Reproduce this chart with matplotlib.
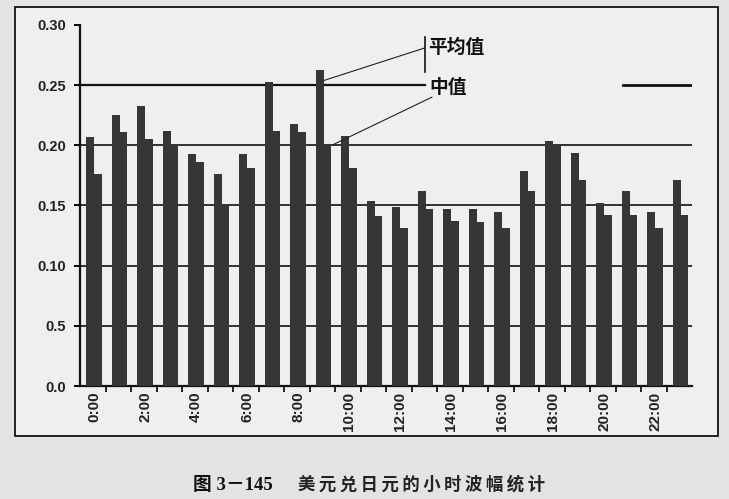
import matplotlib
matplotlib.use("Agg")
import matplotlib.pyplot as plt
from matplotlib.patches import Rectangle
import numpy as np

hours = list(range(24))
hour_labels = [f"{h}:00" for h in range(0, 24, 2)]
mean_vals = [0.207, 0.225, 0.233, 0.212, 0.193, 0.176, 0.193, 0.253, 0.218, 0.263,
             0.208, 0.154, 0.149, 0.162, 0.147, 0.147, 0.145, 0.179, 0.204, 0.194,
             0.152, 0.162, 0.145, 0.171]
median_vals = [0.176, 0.211, 0.205, 0.200, 0.186, 0.151, 0.181, 0.212, 0.211, 0.201,
               0.181, 0.141, 0.131, 0.147, 0.137, 0.136, 0.131, 0.162, 0.201, 0.171,
               0.142, 0.142, 0.131, 0.142]
ytick_vals = [0.0, 0.05, 0.10, 0.15, 0.20, 0.25, 0.30]
ytick_labels = ["0.0", "0.5", "0.10", "0.15", "0.20", "0.25", "0.30"]
mean_label = "平均值"
median_label = "中值"
caption_num = "图 3－145"
caption_title = "美元兑日元的小时波幅统计"

W, H = 729, 499
fig = plt.figure(figsize=(W / 100, H / 100), dpi=100)
fig.patch.set_facecolor("#e3e3e3")

# outer frame
frame = Rectangle((15 / W, 1 - 436 / H), (718 - 15) / W, (436 - 7) / H,
                  transform=fig.transFigure, facecolor="#efefef",
                  edgecolor="#111111", linewidth=1.3, zorder=-5)
fig.add_artist(frame)

ax = fig.add_axes([80 / W, 1 - 386 / H, (692 - 80) / W, (386 - 25) / H])
ax.set_facecolor("none")
ax.set_zorder(2)

x = np.array(hours, dtype=float)
bw = 0.3
off = 0.05
bar_color = "#363636"
ax.bar(x + off - bw / 2, mean_vals, width=bw, color=bar_color, zorder=3, linewidth=0)
ax.bar(x + off + bw / 2, median_vals, width=bw, color=bar_color, zorder=3, linewidth=0)

ax.set_xlim(-0.5, 23.5)
ax.set_ylim(0, 0.30)

# grid lines
for v in [0.05, 0.10, 0.15, 0.20]:
    ax.axhline(v, color="#111111", lw=1.2, zorder=1)
ax.axhline(0.25, xmin=0, xmax=0.5637, color="#111111", lw=1.6, zorder=1)
ax.axhline(0.25, xmin=0.887, xmax=1.0, color="#111111", lw=2.0, zorder=1)

for s in ["top", "right"]:
    ax.spines[s].set_visible(False)
for s in ["left", "bottom"]:
    ax.spines[s].set_linewidth(1.6)
    ax.spines[s].set_color("#111111")

ytick_font = dict(family="Liberation Sans", weight="bold", size=10.5)
xtick_font = dict(family="Liberation Sans", weight="bold", size=11)
ax.set_yticks(ytick_vals)
ax.set_yticklabels(ytick_labels, fontdict=ytick_font, color="#222222")
ax.tick_params(axis="y", direction="out", length=4, width=1.4, pad=6)

ax.set_xticks(np.arange(0.5, 23.5, 1.0))
ax.set_xticklabels([])
ax.tick_params(axis="x", which="major", direction="out", length=4, width=1.2)
ax.set_xticks(np.arange(0, 24, 2) + off, minor=True)
ax.set_xticklabels(hour_labels, minor=True, rotation=90, fontdict=xtick_font, color="#222222")
ax.tick_params(axis="x", which="minor", length=0, pad=4)

cjk = ["Noto Sans CJK SC", "DejaVu Sans"]

# annotations
ax.plot([13.03, 13.03], [0.261, 0.290], color="#111111", lw=1.2, clip_on=False, zorder=4)
ax.plot([13.03, 9.03 + off], [0.281, 0.254], color="#222222", lw=0.8, clip_on=False, zorder=4)
ax.plot([13.3, 9.35 + off], [0.240, 0.2003], color="#222222", lw=0.8, clip_on=False, zorder=4)
ax.text(13.15, 0.2817, mean_label, family=cjk, fontsize=13.5, weight="bold",
        va="center", ha="left", color="#111111", zorder=5)
ax.text(13.2, 0.2477, median_label, family=cjk, fontsize=13.5, weight="bold",
        va="center", ha="left", color="#111111", zorder=5)

fig.text(193 / W, 1 - 485 / H, caption_num, family=["Liberation Serif", "Noto Sans CJK SC"],
         fontsize=13.5, weight="bold", ha="left", va="center", color="#111111")
fig.text(298 / W, 1 - 485 / H, "\u2009".join(caption_title), family=cjk, fontsize=12.5,
         weight="bold", ha="left", va="center", color="#222222")

fig.savefig("out.png", dpi=100, facecolor=fig.get_facecolor())
